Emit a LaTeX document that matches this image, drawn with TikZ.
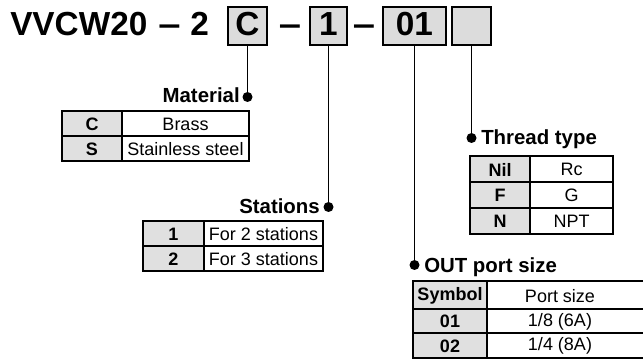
\documentclass[tikz,border=0pt]{standalone}
\usepackage{fontspec}
\setmainfont{Liberation Sans}
\definecolor{boxgray}{HTML}{DCDCDC}
\definecolor{cellgray}{HTML}{E0E0E0}
\begin{document}
\begin{tikzpicture}[x=0.75pt,y=-0.75pt,
  codebox/.style={draw=black,line width=1.6pt,fill=boxgray},
  codetxt/.style={font=\fontsize{25}{28}\selectfont\bfseries,inner sep=0pt},
  lbl/.style={font=\fontsize{15.3}{18}\selectfont\bfseries,inner sep=0pt},
  cell/.style={font=\fontsize{13.5}{16}\selectfont,inner sep=0pt},
  bcell/.style={font=\fontsize{13.5}{16}\selectfont\bfseries,inner sep=0pt},
  lead/.style={line width=1.4pt},
  dotc/.style={circle,fill=black,inner sep=0pt,minimum size=7.5pt},
  grid/.style={line width=0.8pt},
  topline/.style={line width=1.5pt}]
\useasboundingbox (0,0) rectangle (643,359);
\clip (0,0) rectangle (643,359);

% title
\node[codetxt,anchor=base west] (t1) at (10,36) {VVCW20};
\node[codetxt,anchor=base west] (d1) at (158,36) {\scalebox{1.2}[1]{–}};
\node[codetxt,anchor=base west] (t2) at (190,36) {2};
\node[codetxt,anchor=base] (d2) at (290,36) {\scalebox{1.2}[1]{–}};
\node[codetxt,anchor=base] (d3) at (364,36) {\scalebox{1.2}[1]{–}};

\draw[codebox] (228,7) rectangle (267,45);
\draw[codebox] (310,7) rectangle (347,45);
\draw[codebox] (383,7) rectangle (446,45);
\draw[codebox] (452,7) rectangle (491,45);
\coordinate (bC) at (247.5,45);
\coordinate (b1) at (328.5,45);
\coordinate (b01) at (414.5,45);
\coordinate (bT) at (471.5,45);
\node[codetxt,anchor=base] (tC) at (247.5,36) {C};
\node[codetxt,anchor=base] (t1b) at (328.5,36) {1};
\node[codetxt,anchor=base] (t01) at (414.5,36) {01};

% leaders
\node[dotc] (pM) at (247.5,97) {};
\node[dotc] (pS) at (328.5,207) {};
\node[dotc] (pT) at (471.5,138) {};
\node[dotc] (pO) at (414.5,265) {};
\draw[lead] (bC) -- (pM.center);
\draw[lead] (b1) -- (pS.center);
\draw[lead] (bT) -- (pT.center);
\draw[lead] (b01) -- (pO.center);

\node[lbl,anchor=base east] (lM) at (240,103) {Material};
\node[lbl,anchor=base east] (lS) at (320,214) {Stations};
\node[lbl,anchor=base west] (lT) at (481,145) {Thread type};
\node[lbl,anchor=base west] (lO) at (424,273) {OUT port size};

% Material table
\fill[cellgray] (62,111) rectangle (122,161);
\draw[grid] (62,111) rectangle (249,161);
\draw[grid] (122,111) -- (122,161);
\draw[grid] (62,136) -- (249,136);
\draw[topline] (62,111) -- (249,111);
\node[bcell] (mc1) at (92,124) {C};
\node[cell] (mc2) at (185.5,124) {Brass};
\node[bcell] (ms1) at (92,149) {S};
\node[cell] (ms2) at (185.5,149) {Stainless steel};

% Stations table
\fill[cellgray] (143,221) rectangle (204,271);
\draw[grid] (143,221) rectangle (323,271);
\draw[grid] (204,221) -- (204,271);
\draw[grid] (143,246) -- (323,246);
\draw[topline] (143,221) -- (323,221);
\node[bcell] (s11) at (173.5,234) {1};
\node[cell] (s12) at (263.5,234) {For 2 stations};
\node[bcell] (s21) at (173.5,259) {2};
\node[cell] (s22) at (263.5,259) {For 3 stations};

% Thread table
\fill[cellgray] (470,156) rectangle (530,234);
\draw[grid] (470,156) rectangle (613,234);
\draw[grid] (530,156) -- (530,234);
\draw[grid] (470,182) -- (613,182);
\draw[grid] (470,208) -- (613,208);
\draw[topline] (470,156) -- (613,156);
\node[bcell] (th1) at (500,169.5) {Nil};
\node[cell] (th2) at (571.5,169.5) {Rc};
\node[bcell] (tf1) at (500,195.5) {F};
\node[cell] (tf2) at (571.5,195.5) {G};
\node[bcell] (tn1) at (500,221.5) {N};
\node[cell] (tn2) at (571.5,221.5) {NPT};

% OUT port table
\fill[cellgray] (413,281) rectangle (487,370);
\draw[grid] (413,281) rectangle (660,370);
\draw[grid] (487,281) -- (487,370);
\draw[grid] (413,309) -- (660,309);
\draw[grid] (413,333) -- (660,333);
\draw[grid] (413,358) -- (660,358);
\draw[topline] (413,281) -- (660,281);
\node[bcell] (oh1) at (450,295.5) {Symbol};
\node[cell] (oh2) at (560,296) {Port size};
\node[bcell] (o11) at (450,321.5) {01};
\node[cell] (o12) at (560,321.5) {1/8 (6A)};
\node[bcell] (o21) at (450,346) {02};
\node[cell] (o22) at (560,346) {1/4 (8A)};
\end{tikzpicture}
\end{document}
